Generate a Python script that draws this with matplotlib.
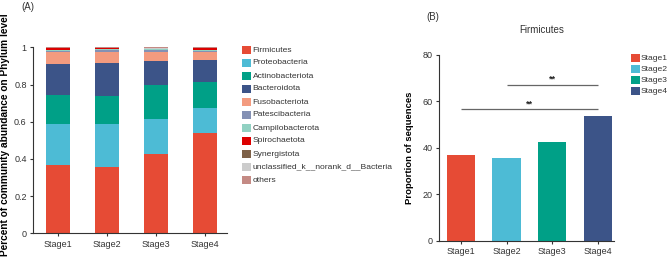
import matplotlib
matplotlib.use("Agg")
import matplotlib.pyplot as plt
from matplotlib.patches import Rectangle
import numpy as np

plt.rcParams['font.family'] = ['Liberation Sans', 'DejaVu Sans']

stages = ["Stage1", "Stage2", "Stage3", "Stage4"]
phyla = ["Firmicutes", "Proteobacteria", "Actinobacteriota", "Bacteroidota",
         "Fusobacteriota", "Patescibacteria", "Campilobacterota", "Spirochaetota",
         "Synergistota", "unclassified_k__norank_d__Bacteria", "others"]
phylum_colors = ["#E64B35", "#4DBBD5", "#00A087", "#3C5488", "#F39B7F", "#8491B4",
                 "#91D1C2", "#DC0000", "#7E6148", "#CCCCCC", "#C48A84"]

firmicutes = [0.367, 0.357, 0.427, 0.538]
proteobacteria = [0.221, 0.231, 0.186, 0.134]
actinobacteriota = [0.156, 0.152, 0.183, 0.143]
bacteroidota = [0.165, 0.174, 0.132, 0.119]
fusobacteriota = [0.064, 0.060, 0.048, 0.042]
patescibacteria = [0.008, 0.009, 0.007, 0.006]
campilobacterota = [0.006, 0.006, 0.006, 0.006]
spirochaetota = [0.007, 0.007, 0.001, 0.006]
synergistota = [0.001, 0.001, 0.003, 0.001]
unclassified = [0.002, 0.001, 0.002, 0.002]
others = [0.003, 0.002, 0.005, 0.003]

abund = [firmicutes, proteobacteria, actinobacteriota, bacteroidota, fusobacteriota,
         patescibacteria, campilobacterota, spirochaetota, synergistota, unclassified, others]

firm_pct = [36.8, 35.6, 42.5, 53.7]
stage_colors = ["#E64B35", "#4DBBD5", "#00A087", "#3C5488"]
sig_pairs = [(1, 3, 67.2, "**"), (0, 3, 56.6, "**")]

W, H = 669, 258
fig = plt.figure(figsize=(W / 100, H / 100), dpi=100)
TC = "#333333"

def fx(px):
    return px / W

def fy(py):
    return 1 - py / H

# ---- Panel A ----
axA = fig.add_axes([fx(33), fy(233.3), fx(227) - fx(33), fy(47.3) - fy(233.3)])
x = np.arange(len(stages))
bottom = np.zeros(len(stages))
for vals, col in zip(abund, phylum_colors):
    axA.bar(x, vals, width=0.5, bottom=bottom, color=col, edgecolor="none")
    bottom += np.array(vals)
axA.set_xlim(-0.51, 3.45)
axA.set_ylim(0, 1)
axA.set_xticks(x)
axA.set_xticklabels(stages)
axA.set_yticks([0, 0.2, 0.4, 0.6, 0.8, 1])
axA.set_yticklabels(["0", "0.2", "0.4", "0.6", "0.8", "1"])
fig.text(fx(5.5), fy(135), "Percent of community abundance on Phylum level",
         fontsize=7.3, fontweight="bold", color="black", rotation=90,
         ha="center", va="center")

# ---- Panel B ----
axB = fig.add_axes([fx(439), fy(240.7), fx(614) - fx(439), fy(55) - fy(240.7)])
axB.bar(x, firm_pct, width=0.62, color=stage_colors, edgecolor="none")
axB.set_xlim(-0.48, 3.35)
axB.set_ylim(0, 80)
axB.set_xticks(x)
axB.set_xticklabels(stages)
axB.set_yticks([0, 20, 40, 60, 80])
axB.set_ylabel("Proportion of sequences", fontsize=6.8, fontweight="bold",
               color="black", labelpad=6)
fig.text(fx(542), fy(30), "Firmicutes", fontsize=7, color=TC, ha="center", va="center")
for i, j, yv, lab in sig_pairs:
    axB.plot([x[i], x[j]], [yv, yv], color="#666666", lw=0.9, solid_capstyle="butt",
             clip_on=False)
    axB.text((x[i] + x[j]) / 2, yv + 0.5, lab, ha="center", va="bottom",
             fontsize=6.5, color="#222222", fontweight="bold")

for ax in (axA, axB):
    ax.spines["top"].set_visible(False)
    ax.spines["right"].set_visible(False)
    for s in ("left", "bottom"):
        ax.spines[s].set_color(TC)
        ax.spines[s].set_linewidth(0.8)
    ax.tick_params(axis="both", direction="out", length=2.5, width=0.8,
                   color=TC, labelcolor=TC, labelsize=6.5, pad=2)

# ---- legends (manual) ----
for k, (name, col) in enumerate(zip(phyla, phylum_colors)):
    cy = 50 + 13 * k
    fig.add_artist(Rectangle((fx(242), fy(cy + 4)), fx(8.5), fy(cy - 4) - fy(cy + 4),
                             transform=fig.transFigure, facecolor=col, edgecolor="none"))
    fig.text(fx(252.5), fy(cy), name, fontsize=6.1, color=TC, va="center", ha="left")

for k, (name, col) in enumerate(zip(stages, stage_colors)):
    cy = 58.3 + 11 * k
    fig.add_artist(Rectangle((fx(631), fy(cy + 4)), fx(8.5), fy(cy - 4) - fy(cy + 4),
                             transform=fig.transFigure, facecolor=col, edgecolor="none"))
    fig.text(fx(641), fy(cy), name, fontsize=6.1, color=TC, va="center", ha="left")

fig.text(fx(28), fy(7.5), "(A)", fontsize=7, color=TC, ha="center", va="center")
fig.text(fx(433), fy(17), "(B)", fontsize=7, color=TC, ha="center", va="center")

fig.savefig("out.png", dpi=100)
